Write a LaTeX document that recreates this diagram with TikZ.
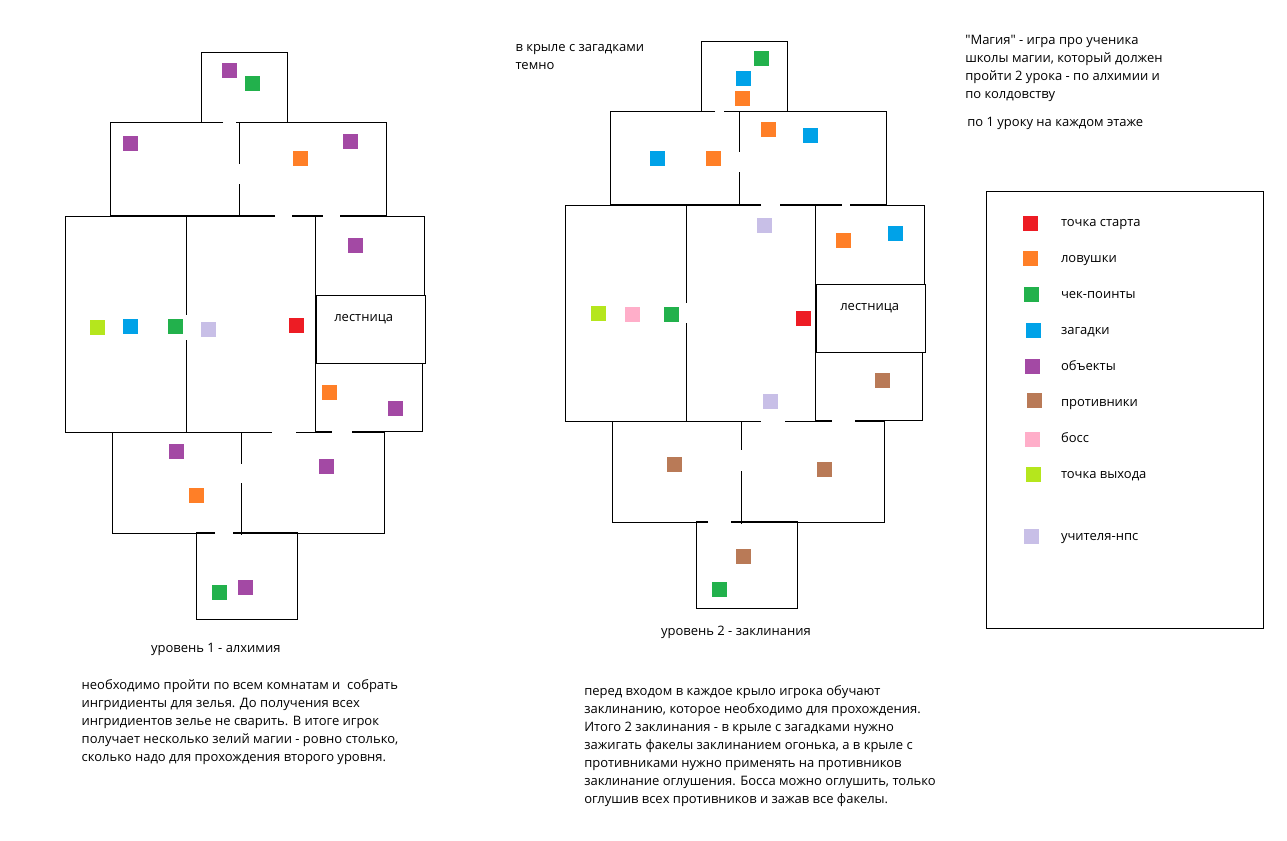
\documentclass[tikz,border=0pt]{standalone}
\usepackage{fontspec}
\setmainfont{Open Sans}[Ligatures=TeXOff]
\definecolor{cred}{HTML}{ED1C24}
\definecolor{corange}{HTML}{FF7F27}
\definecolor{cgreen}{HTML}{22B14C}
\definecolor{cblue}{HTML}{00A2E8}
\definecolor{cpurple}{HTML}{A349A4}
\definecolor{cbrown}{HTML}{B97A57}
\definecolor{cpink}{HTML}{FFAEC9}
\definecolor{clime}{HTML}{B5E61D}
\definecolor{clav}{HTML}{C8BFE7}
\tikzset{
  wall/.style={draw=black,line width=0.75pt,line cap=butt,line join=miter},
  sq/.style={anchor=north west,inner sep=0pt,outer sep=0pt,minimum size=11.25pt},
  txt/.style={anchor=base west,inner sep=0pt,outer sep=0pt,font=\fontsize{9.75pt}{13.5pt}\selectfont,text=black}
}
\begin{document}
\begin{tikzpicture}[x=0.75pt,y=-0.75pt]
\useasboundingbox (0,0) rectangle (1287,840);
\fill[white] (0,0) rectangle (1287,840);
% ---------- level 1 walls
\draw[wall] (223,122.5) -- (201.5,122.5) -- (201.5,52.5) -- (287.5,52.5) -- (287.5,122.5) -- (236,122.5);
\draw[wall] (110.5,215.5) -- (110.5,122.5) -- (223,122.5);
\draw[wall] (236,122.5) -- (386.5,122.5) -- (386.5,215.5);
\draw[wall] (239.5,122.5) -- (239.5,164);
\draw[wall] (239.5,184) -- (239.5,215.5);
\draw[wall] (110,215.5) -- (275,215.5);
\draw[wall] (292,215.5) -- (323,215.5);
\draw[wall] (340,215.5) -- (387,215.5);
\draw[wall] (275,216.5) -- (65.5,216.5) -- (65.5,432.5) -- (272,432.5);
\draw[wall] (292,216.5) -- (323,216.5);
\draw[wall] (340,216.5) -- (424.5,216.5) -- (424.5,295.5);
\draw[wall] (186.5,216.5) -- (186.5,315);
\draw[wall] (186.5,340) -- (186.5,432.5);
\draw[wall] (315.5,216.5) -- (315.5,431.5);
\draw[wall] (316.5,295.5) rectangle (425.5,363.5);
\draw[wall] (332,431.5) -- (315.5,431.5);
\draw[wall] (352,431.5) -- (422.5,431.5) -- (422.5,363.5);
\draw[wall] (296,432.5) -- (332,432.5);
\draw[wall] (352,432.5) -- (384.5,432.5) -- (384.5,533.5) -- (233,533.5);
\draw[wall] (215,533.5) -- (112.5,533.5) -- (112.5,432.5);
\draw[wall] (241.5,432.5) -- (241.5,464);
\draw[wall] (241.5,483) -- (241.5,535);
\draw[wall] (215,532.5) -- (196.5,532.5) -- (196.5,619.5) -- (297.5,619.5) -- (297.5,532.5) -- (233,532.5);
% ---------- level 2 walls
\draw[wall] (715,111.5) -- (701.5,111.5) -- (701.5,41.5) -- (787.5,41.5) -- (787.5,111.5) -- (724,111.5);
\draw[wall] (610.5,204.5) -- (610.5,111.5) -- (715,111.5);
\draw[wall] (724,111.5) -- (886.5,111.5) -- (886.5,204.5);
\draw[wall] (739.5,111.5) -- (739.5,152);
\draw[wall] (739.5,172) -- (739.5,204.5);
\draw[wall] (610,204.5) -- (761,204.5);
\draw[wall] (780,204.5) -- (842,204.5);
\draw[wall] (850,204.5) -- (887,204.5);
\draw[wall] (761,205.5) -- (565.5,205.5) -- (565.5,421.5) -- (761,421.5);
\draw[wall] (780,205.5) -- (842,205.5);
\draw[wall] (850,205.5) -- (924.5,205.5) -- (924.5,284.5);
\draw[wall] (686.5,205.5) -- (686.5,303);
\draw[wall] (686.5,323) -- (686.5,421.5);
\draw[wall] (815.5,205.5) -- (815.5,420.5);
\draw[wall] (816.5,284.5) rectangle (925.5,352.5);
\draw[wall] (832,420.5) -- (815.5,420.5);
\draw[wall] (855,420.5) -- (922.5,420.5) -- (922.5,352.5);
\draw[wall] (785,421.5) -- (832,421.5);
\draw[wall] (855,421.5) -- (884.5,421.5) -- (884.5,522.5) -- (731,522.5);
\draw[wall] (708,522.5) -- (612.5,522.5) -- (612.5,421.5);
\draw[wall] (741.5,421.5) -- (741.5,450);
\draw[wall] (741.5,471) -- (741.5,524);
\draw[wall] (708,521.5) -- (696.5,521.5) -- (696.5,608.5) -- (797.5,608.5) -- (797.5,521.5) -- (731,521.5);
% ---------- legend frame
\draw[wall] (986.5,191.5) rectangle (1263.5,628.5);
% ---------- level 1 markers
\node[sq,fill=cpurple] (a1) at (222,63) {};
\node[sq,fill=cgreen] (a2) at (245,76) {};
\node[sq,fill=cpurple] (a3) at (123,136) {};
\node[sq,fill=cpurple] (a4) at (343,134) {};
\node[sq,fill=corange] (a5) at (293,151) {};
\node[sq,fill=cpurple] (a6) at (348,238) {};
\node[sq,fill=clime] (a7) at (90,320) {};
\node[sq,fill=cblue] (a8) at (123,319) {};
\node[sq,fill=cgreen] (a9) at (168,319) {};
\node[sq,fill=clav] (a10) at (201,322) {};
\node[sq,fill=cred] (a11) at (289,318) {};
\node[sq,fill=corange] (a12) at (322,385) {};
\node[sq,fill=cpurple] (a13) at (388,401) {};
\node[sq,fill=cpurple] (a14) at (169,444) {};
\node[sq,fill=corange] (a15) at (189,488) {};
\node[sq,fill=cpurple] (a16) at (319,459) {};
\node[sq,fill=cgreen] (a17) at (212,585) {};
\node[sq,fill=cpurple] (a18) at (238,580) {};
% ---------- level 2 markers
\node[sq,fill=cgreen] (b1) at (754,51) {};
\node[sq,fill=cblue] (b2) at (736,71) {};
\node[sq,fill=corange] (b3) at (735,91) {};
\node[sq,fill=corange] (b4) at (761,122) {};
\node[sq,fill=cblue] (b5) at (803,128) {};
\node[sq,fill=cblue] (b6) at (650,151) {};
\node[sq,fill=corange] (b7) at (706,151) {};
\node[sq,fill=clav] (b8) at (757,218) {};
\node[sq,fill=corange] (b9) at (836,233) {};
\node[sq,fill=cblue] (b10) at (888,226) {};
\node[sq,fill=clime] (b11) at (591,306) {};
\node[sq,fill=cpink] (b12) at (625,307) {};
\node[sq,fill=cgreen] (b13) at (664,307) {};
\node[sq,fill=cred] (b14) at (796,311) {};
\node[sq,fill=cbrown] (b15) at (875,373) {};
\node[sq,fill=clav] (b16) at (763,394) {};
\node[sq,fill=cbrown] (b17) at (667,457) {};
\node[sq,fill=cbrown] (b18) at (817,462) {};
\node[sq,fill=cbrown] (b19) at (736,549) {};
\node[sq,fill=cgreen] (b20) at (712,582) {};
% ---------- legend
\node[sq,fill=cred] (k1) at (1023,216) {};
\node[sq,fill=corange] (k2) at (1023,251) {};
\node[sq,fill=cgreen] (k3) at (1024,287) {};
\node[sq,fill=cblue] (k4) at (1026,323) {};
\node[sq,fill=cpurple] (k5) at (1025,359) {};
\node[sq,fill=cbrown] (k6) at (1027,393) {};
\node[sq,fill=cpink] (k7) at (1025,432) {};
\node[sq,fill=clime] (k8) at (1026,467) {};
\node[sq,fill=clav] (k9) at (1024,529) {};
\node[txt] (t1) at (1061,226) {точка старта};
\node[txt] (t2) at (1061,262) {ловушки};
\node[txt] (t3) at (1061,298) {чек-поинты};
\node[txt] (t4) at (1061,334) {загадки};
\node[txt] (t5) at (1061,370) {объекты};
\node[txt] (t6) at (1061,406) {противники};
\node[txt] (t7) at (1061,442) {босс};
\node[txt] (t8) at (1061,478) {точка выхода};
\node[txt] (t9) at (1061,540) {учителя-нпс};
% ---------- texts
\node[txt] (m1) at (965.3,44) {"Магия" - игра про ученика};
\node[txt] (m2) at (965.3,62) {школы магии, который должен};
\node[txt] (m3) at (965.3,80) {пройти 2 урока - по алхимии и};
\node[txt] (m4) at (965.3,98) {по колдовству};
\node[txt] (m5) at (967.3,126.7) {по 1 уроку на каждом этаже};
\node[txt] (w1) at (515.5,51) {в крыле с загадками};
\node[txt] (w2) at (515.5,69) {темно};
\node[txt] (s1) at (334.3,321.7) {лестница};
\node[txt] (s2) at (840.3,310.7) {лестница};
\node[txt] (h1) at (151,652.7) {уровень 1 - алхимия};
\node[txt] (h2) at (661,635.7) {уровень 2 - заклинания};
\node[txt] (p1) at (81.7,689.3) {необходимо пройти по всем комнатам и\ \ собрать};
\node[txt] (p2) at (81.7,707.3) {ингридиенты для зелья. До получения всех};
\node[txt] (p3) at (81.7,725.3) {ингридиентов зелье не сварить. В итоге игрок};
\node[txt] (p4) at (81.7,743.3) {получает несколько зелий магии - ровно столько,};
\node[txt] (p5) at (81.7,761.3) {сколько надо для прохождения второго уровня.};
\node[txt] (q1) at (584.3,695) {перед входом в каждое крыло игрока обучают};
\node[txt] (q2) at (584.3,713) {заклинанию, которое необходимо для прохождения.};
\node[txt] (q3) at (584.3,731) {Итого 2 заклинания - в крыле с загадками нужно};
\node[txt] (q4) at (584.3,749) {зажигать факелы заклинанием огонька, а в крыле с};
\node[txt] (q5) at (584.3,767) {противниками нужно применять на противников};
\node[txt] (q6) at (584.3,785) {заклинание оглушения. Босса можно оглушить, только};
\node[txt] (q7) at (584.3,803) {оглушив всех противников и зажав все факелы.};
\end{tikzpicture}
\end{document}
